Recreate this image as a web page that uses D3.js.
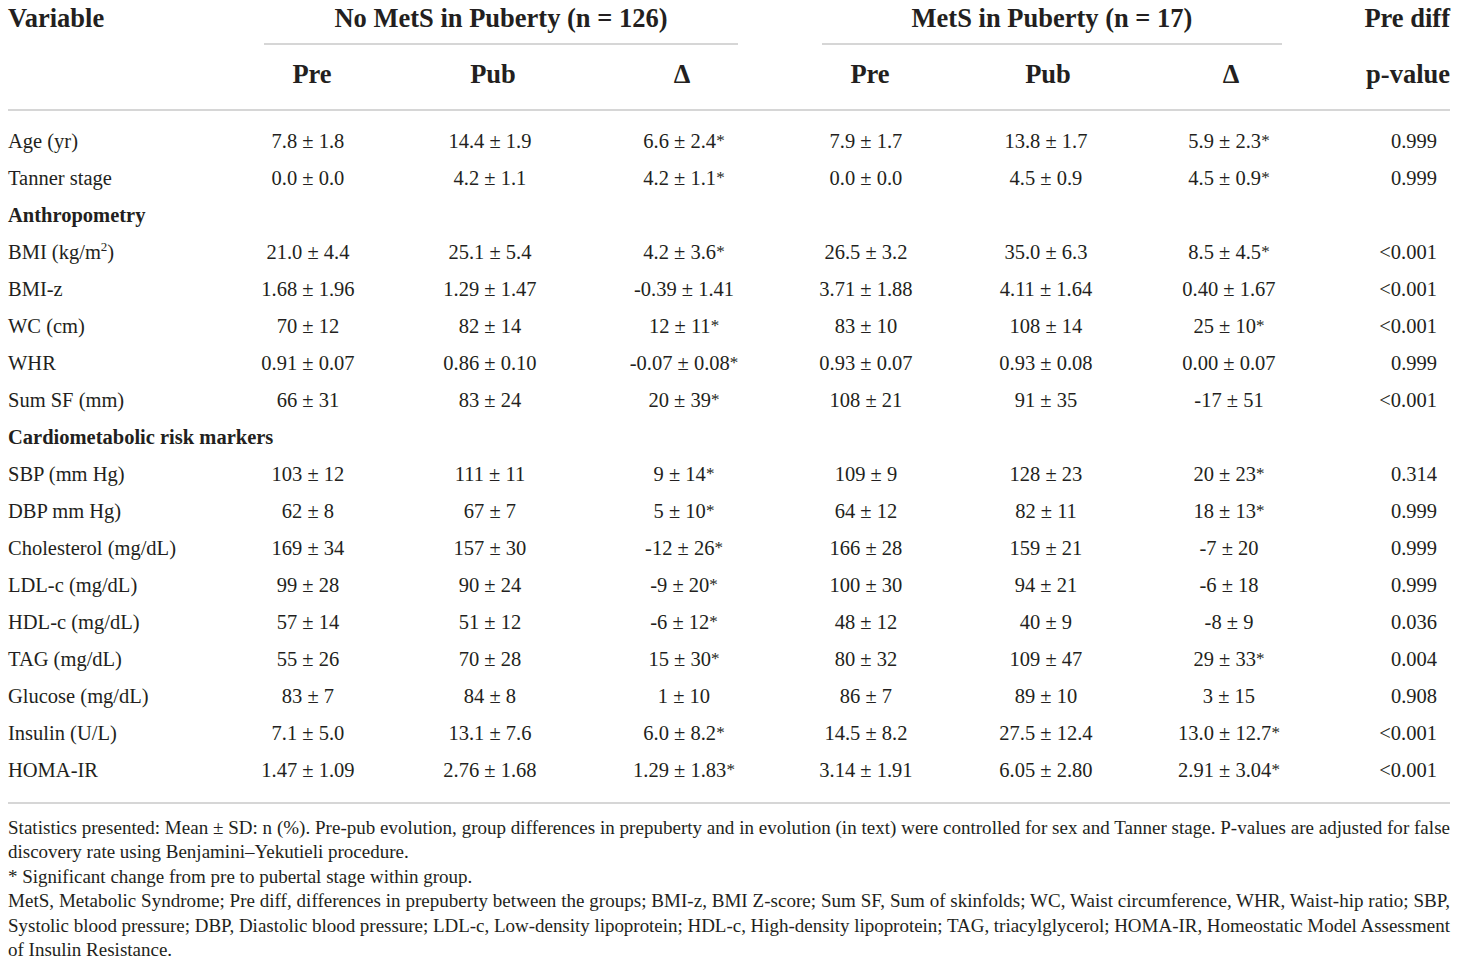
<html>
<head>
<meta charset="utf-8">
<title>MetS in puberty table</title>
<script src="https://d3js.org/d3.v7.min.js"></script>
<style>
  body { margin: 0; background: #fff; }
  svg text { font-family: "Liberation Serif", "DejaVu Serif", serif; fill: #231f20; }
</style>
</head>
<body>
<svg id="table" width="1460" height="967"></svg>
<script>
// row labels, sections have no values
const rowLabels = ["Age (yr)", "Tanner stage", "Anthropometry", "BMI (kg/m2)", "BMI-z", "WC (cm)", "WHR",
  "Sum SF (mm)", "Cardiometabolic risk markers", "SBP (mm Hg)", "DBP mm Hg)", "Cholesterol (mg/dL)",
  "LDL-c (mg/dL)", "HDL-c (mg/dL)", "TAG (mg/dL)", "Glucose (mg/dL)", "Insulin (U/L)", "HOMA-IR"];
const sectionRows = ["Anthropometry", "Cardiometabolic risk markers"];

const groupTitles = ["No MetS in Puberty (n = 126)", "MetS in Puberty (n = 17)"];
const subHeaders = ["Pre", "Pub", "\u0394", "Pre", "Pub", "\u0394"];

const noMetsPre = ["7.8 ± 1.8", "0.0 ± 0.0", null, "21.0 ± 4.4", "1.68 ± 1.96", "70 ± 12", "0.91 ± 0.07", "66 ± 31", null,
  "103 ± 12", "62 ± 8", "169 ± 34", "99 ± 28", "57 ± 14", "55 ± 26", "83 ± 7", "7.1 ± 5.0", "1.47 ± 1.09"];
const noMetsPub = ["14.4 ± 1.9", "4.2 ± 1.1", null, "25.1 ± 5.4", "1.29 ± 1.47", "82 ± 14", "0.86 ± 0.10", "83 ± 24", null,
  "111 ± 11", "67 ± 7", "157 ± 30", "90 ± 24", "51 ± 12", "70 ± 28", "84 ± 8", "13.1 ± 7.6", "2.76 ± 1.68"];
const noMetsDelta = ["6.6 ± 2.4*", "4.2 ± 1.1*", null, "4.2 ± 3.6*", "-0.39 ± 1.41", "12 ± 11*", "-0.07 ± 0.08*", "20 ± 39*", null,
  "9 ± 14*", "5 ± 10*", "-12 ± 26*", "-9 ± 20*", "-6 ± 12*", "15 ± 30*", "1 ± 10", "6.0 ± 8.2*", "1.29 ± 1.83*"];
const metsPre = ["7.9 ± 1.7", "0.0 ± 0.0", null, "26.5 ± 3.2", "3.71 ± 1.88", "83 ± 10", "0.93 ± 0.07", "108 ± 21", null,
  "109 ± 9", "64 ± 12", "166 ± 28", "100 ± 30", "48 ± 12", "80 ± 32", "86 ± 7", "14.5 ± 8.2", "3.14 ± 1.91"];
const metsPub = ["13.8 ± 1.7", "4.5 ± 0.9", null, "35.0 ± 6.3", "4.11 ± 1.64", "108 ± 14", "0.93 ± 0.08", "91 ± 35", null,
  "128 ± 23", "82 ± 11", "159 ± 21", "94 ± 21", "40 ± 9", "109 ± 47", "89 ± 10", "27.5 ± 12.4", "6.05 ± 2.80"];
const metsDelta = ["5.9 ± 2.3*", "4.5 ± 0.9*", null, "8.5 ± 4.5*", "0.40 ± 1.67", "25 ± 10*", "0.00 ± 0.07", "-17 ± 51", null,
  "20 ± 23*", "18 ± 13*", "-7 ± 20", "-6 ± 18", "-8 ± 9", "29 ± 33*", "3 ± 15", "13.0 ± 12.7*", "2.91 ± 3.04*"];
const preDiffP = ["0.999", "0.999", null, "<0.001", "<0.001", "<0.001", "0.999", "<0.001", null,
  "0.314", "0.999", "0.999", "0.999", "0.036", "0.004", "0.908", "<0.001", "<0.001"];

const footnotes = [
  "Statistics presented: Mean ± SD: n (%). Pre-pub evolution, group differences in prepuberty and in evolution (in text) were controlled for sex and Tanner stage. P-values are adjusted for false",
  "discovery rate using Benjamini\u2013Yekutieli procedure.",
  "* Significant change from pre to pubertal stage within group.",
  "MetS, Metabolic Syndrome; Pre diff, differences in prepuberty between the groups; BMI-z, BMI Z-score; Sum SF, Sum of skinfolds; WC, Waist circumference, WHR, Waist-hip ratio; SBP,",
  "Systolic blood pressure; DBP, Diastolic blood pressure; LDL-c, Low-density lipoprotein; HDL-c, High-density lipoprotein; TAG, triacylglycerol; HOMA-IR, Homeostatic Model Assessment",
  "of Insulin Resistance."
];
const justified = [true, false, false, true, true, false];

const svg = d3.select("#table");
const left = 8, right = 1450;
const ruleColor = "#c9c9c9";
const headSize = 26.5;

const valueCols = [noMetsPre, noMetsPub, noMetsDelta, metsPre, metsPub, metsDelta];
const colX = d3.scaleOrdinal().domain(d3.range(6)).range([308, 490, 684, 866, 1046, 1229]);
const headX = d3.scaleOrdinal().domain(d3.range(6)).range([312, 493, 682, 870, 1048, 1231]);
const y = d3.scalePoint().domain(rowLabels).range([148, 777]);

// header row 1
svg.append("text").attr("x", left).attr("y", 27)
  .attr("font-size", headSize).attr("font-weight", "bold").text("Variable");
svg.selectAll("text.group").data(groupTitles).join("text")
  .attr("class", "group")
  .attr("x", (d, i) => i === 0 ? 501 : 1052).attr("y", 27)
  .attr("text-anchor", "middle").attr("font-size", headSize).attr("font-weight", "bold")
  .text(d => d);
svg.append("text").attr("x", right).attr("y", 27).attr("text-anchor", "end")
  .attr("font-size", headSize).attr("font-weight", "bold").text("Pre diff");

// group underlines
svg.selectAll("line.under").data([[264, 738], [822, 1282]]).join("line")
  .attr("class", "under")
  .attr("x1", d => d[0]).attr("x2", d => d[1]).attr("y1", 44).attr("y2", 44)
  .attr("stroke", ruleColor).attr("stroke-width", 1.5);

// header row 2
svg.selectAll("text.sub").data(subHeaders).join("text")
  .attr("class", "sub")
  .attr("x", (d, i) => headX(i)).attr("y", 83)
  .attr("text-anchor", "middle").attr("font-size", headSize).attr("font-weight", "bold")
  .text(d => d);
svg.append("text").attr("x", right).attr("y", 83).attr("text-anchor", "end")
  .attr("font-size", headSize).attr("font-weight", "bold").text("p-value");

// full rules
svg.selectAll("line.rule").data([110, 803]).join("line")
  .attr("class", "rule")
  .attr("x1", left).attr("x2", right).attr("y1", d => d).attr("y2", d => d)
  .attr("stroke", ruleColor).attr("stroke-width", 1.5);

// variable labels
const labels = svg.selectAll("text.var").data(rowLabels).join("text")
  .attr("class", "var")
  .attr("x", left).attr("y", d => y(d))
  .attr("font-size", 20.5)
  .attr("font-weight", d => sectionRows.includes(d) ? "bold" : "normal");
labels.each(function(d) {
  const t = d3.select(this);
  if (d === "BMI (kg/m2)") {
    t.append("tspan").text("BMI (kg/m");
    t.append("tspan").attr("font-size", 13).attr("dy", -8).text("2");
    t.append("tspan").attr("dy", 8).text(")");
  } else {
    t.text(d);
  }
});

// value cells
valueCols.forEach((col, ci) => {
  svg.selectAll(`text.c${ci}`).data(col.map((v, ri) => ({ v, r: rowLabels[ri] })).filter(d => d.v !== null))
    .join("text")
    .attr("class", `c${ci}`)
    .attr("x", colX(ci)).attr("y", d => y(d.r))
    .attr("text-anchor", "middle").attr("font-size", 20.5)
    .each(function(d) {
      const t = d3.select(this);
      const star = d.v.endsWith("*");
      t.append("tspan").text(star ? d.v.slice(0, -1) : d.v);
      if (star) t.append("tspan").attr("font-size", 17).attr("dy", -2).text("*");
    });
});

svg.selectAll("text.pval").data(preDiffP.map((v, ri) => ({ v, r: rowLabels[ri] })).filter(d => d.v !== null))
  .join("text")
  .attr("class", "pval")
  .attr("x", 1437).attr("y", d => y(d.r))
  .attr("text-anchor", "end").attr("font-size", 20.5)
  .text(d => d.v);

// footnotes
svg.selectAll("text.foot").data(footnotes).join("text")
  .attr("class", "foot")
  .attr("x", left).attr("y", (d, i) => 834 + i * 24.4)
  .attr("font-size", 19)
  .text(d => d)
  .each(function(d, i) {
    if (justified[i]) d3.select(this).attr("textLength", right - left).attr("lengthAdjust", "spacing");
  });
</script>
</body>
</html>
